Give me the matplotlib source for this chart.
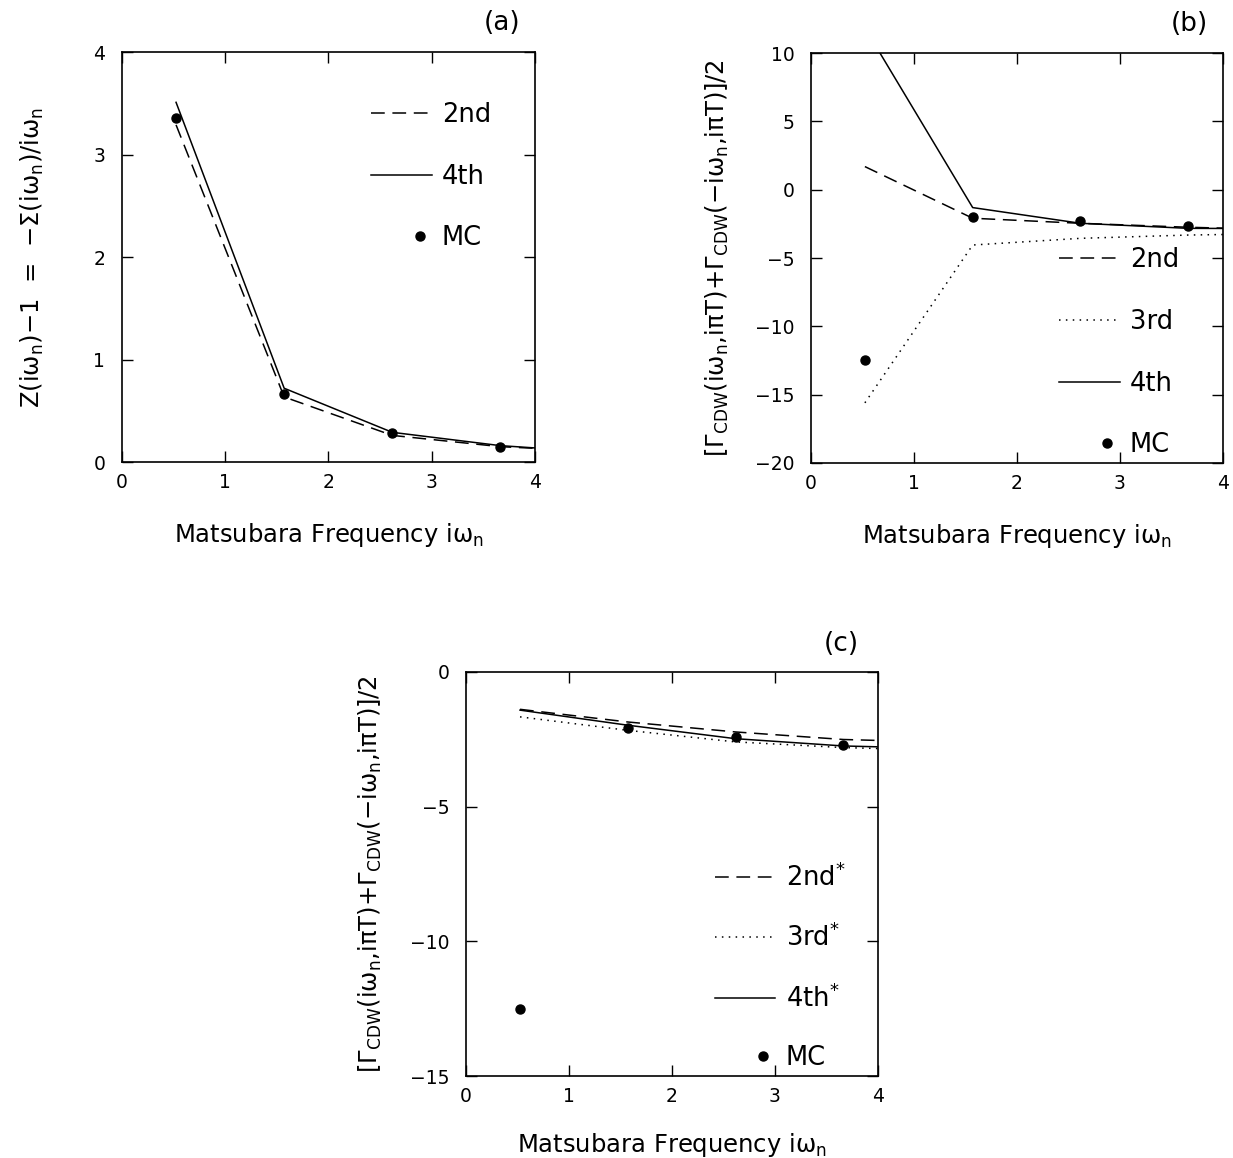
import matplotlib
matplotlib.use("Agg")
import matplotlib.pyplot as plt
from matplotlib.legend_handler import HandlerLine2D

plt.rcParams["font.family"] = ["DejaVu Sans"]
plt.rcParams["mathtext.fontset"] = "dejavusans"
plt.rcParams["mathtext.default"] = "regular"

# frecuencias de Matsubara (pi*T, 3*pi*T, ...), T = 1/6
freq = [0.524, 1.571, 2.618, 3.665, 4.712]
freq_mc = [0.524, 1.571, 2.618, 3.665]

# panel (a): Z(iw_n) - 1
z_2nd = [3.29, 0.635, 0.26, 0.15, 0.10]
z_4th = [3.51, 0.72, 0.29, 0.16, 0.09]
z_mc = [3.36, 0.66, 0.28, 0.15]

# panel (b): vertice CDW
b_2nd = [1.69, -2.09, -2.46, -2.75, -2.95]
b_3rd = [-15.6, -4.05, -3.56, -3.32, -3.20]
b_4th = [11.84, -1.31, -2.46, -2.83, -2.85]
b_mc = [-12.43, -1.97, -2.29, -2.63]

# panel (c): vertice CDW (autoconsistente)
c_2nd = [-1.39, -1.86, -2.23, -2.51, -2.62]
c_3rd = [-1.67, -2.17, -2.60, -2.81, -2.92]
c_4th = [-1.42, -1.98, -2.48, -2.75, -2.85]
c_mc = [-12.5, -2.08, -2.41, -2.73]

xlabel = r"Matsubara Frequency i$\omega_n$"
ylabel_a = r"Z(i$\omega_n$)$-$1  =  $-\Sigma$(i$\omega_n$)/i$\omega_n$"
ylabel_bc = r"[$\Gamma_{CDW}$(i$\omega_n$,i$\pi$T)+$\Gamma_{CDW}$($-$i$\omega_n$,i$\pi$T)]/2"

dash = (0, (9, 5))
dot = (0, (1, 3.5))


class DotRight(HandlerLine2D):
  # el punto del MC va hacia la derecha de la muestra
  def get_xdata(self, legend, xdescent, ydescent, width, height, fontsize):
    xd = [-xdescent + 0.6 * width, -xdescent + width]
    return xd, [-xdescent + 0.8 * width]


def style_axes(ax, ylim, yticks):
  ax.set_xlim(0, 4)
  ax.set_ylim(*ylim)
  ax.set_xticks([0, 1, 2, 3, 4])
  ax.set_yticks(yticks)
  ax.tick_params(direction="in", top=True, right=True, length=8, width=1, labelsize=13.5)
  ax.tick_params(axis="x", pad=8)
  ax.tick_params(axis="y", pad=12)
  ax.set_yticklabels([str(t).replace("-", "\u2212") for t in yticks])
  for s in ax.spines.values():
    s.set_linewidth(1.2)
  ax.set_xlabel(xlabel, fontsize=17.5)
  ax.xaxis.set_label_coords(0.5, -0.145)


def add_legend(ax, handles, loc, anchor, spacing):
  ax.legend(handles=handles, loc=loc, bbox_to_anchor=anchor, frameon=False,
            fontsize=18.5, handlelength=2.35, handletextpad=0.4, labelspacing=spacing,
            numpoints=1, handler_map={handles[-1]: DotRight()})


fig = plt.figure(figsize=(12.33, 11.58), dpi=100)

# (a)
ax = fig.add_axes([0.0989, 0.601, 0.335, 0.354])
l2, = ax.plot(freq, z_2nd, color="black", lw=1.1, linestyle=dash, label="2nd")
l4, = ax.plot(freq, z_4th, color="black", lw=1.1, label="4th")
mc, = ax.plot(freq_mc, z_mc, "o", color="black", ms=6.5, label="MC")
style_axes(ax, (0, 4), [0, 1, 2, 3, 4])
ax.set_ylabel(ylabel_a, fontsize=17.5)
ax.yaxis.set_label_coords(-0.185, 0.5)
add_legend(ax, [l2, l4, mc], "upper right", (0.95, 0.935), 1.39)
ax.text(0.92, 1.07, "(a)", transform=ax.transAxes, fontsize=19, ha="center", va="center")

# (b)
ax = fig.add_axes([0.6577, 0.6002, 0.334, 0.354])
l2, = ax.plot(freq, b_2nd, color="black", lw=1.1, linestyle=dash, label="2nd")
l3, = ax.plot(freq, b_3rd, color="black", lw=1.1, linestyle=dot, label="3rd")
l4, = ax.plot(freq, b_4th, color="black", lw=1.1, label="4th")
mc, = ax.plot(freq_mc, b_mc, "o", color="black", ms=6.5, label="MC")
style_axes(ax, (-20, 10), [-20, -15, -10, -5, 0, 5, 10])
ax.set_ylabel(ylabel_bc, fontsize=17.5)
ax.yaxis.set_label_coords(-0.195, 0.5)
add_legend(ax, [l2, l3, l4, mc], "lower right", (0.95, -0.045), 1.39)
ax.text(0.92, 1.07, "(b)", transform=ax.transAxes, fontsize=19, ha="center", va="center")

# (c)
ax = fig.add_axes([0.378, 0.0708, 0.334, 0.349])
l2, = ax.plot(freq, c_2nd, color="black", lw=1.1, linestyle=dash, label="2nd$^{*}$")
l3, = ax.plot(freq, c_3rd, color="black", lw=1.1, linestyle=dot, label="3rd$^{*}$")
l4, = ax.plot(freq, c_4th, color="black", lw=1.1, label="4th$^{*}$")
mc, = ax.plot(freq_mc, c_mc, "o", color="black", ms=6.5, label="MC")
style_axes(ax, (-15, 0), [-15, -10, -5, 0])
ax.set_ylabel(ylabel_bc, fontsize=17.5)
ax.yaxis.set_label_coords(-0.2, 0.5)
ax.xaxis.set_label_coords(0.5, -0.135)
add_legend(ax, [l2, l3, l4, mc], "lower right", (0.977, -0.045), 1.25)
ax.text(0.91, 1.07, "(c)", transform=ax.transAxes, fontsize=19, ha="center", va="center")

fig.savefig("out.png", dpi=100)
plt.close(fig)
